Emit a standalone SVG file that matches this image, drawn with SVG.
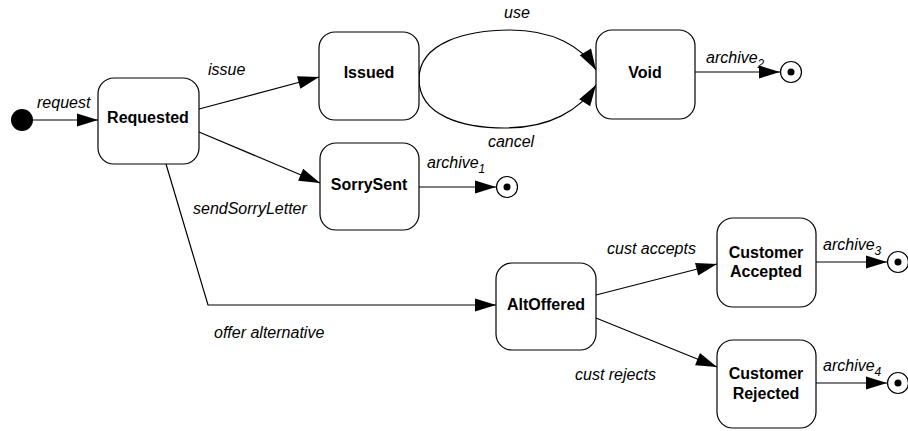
<svg xmlns="http://www.w3.org/2000/svg" width="908" height="431" viewBox="0 0 908 431">
<defs>
<marker id="arr" markerUnits="userSpaceOnUse" markerWidth="22" markerHeight="13" refX="21" refY="6.5" orient="auto" overflow="visible">
<path d="M0,0 L21,6.5 L0,13 z" fill="#000"/>
</marker>
<style>
.st{fill:#fff;stroke:#000;stroke-width:1.2}
.nm{font-family:"Liberation Sans",Arial,sans-serif;font-weight:bold;font-size:16px;text-anchor:middle;fill:#000}
.lb{font-family:"Liberation Sans",Arial,sans-serif;font-style:italic;font-size:16px;fill:#000}
.sub{font-size:12px}
.cn{fill:none;stroke:#000;stroke-width:1.2;marker-end:url(#arr)}
.fo{fill:#fff;stroke:#000;stroke-width:1.2}
</style>
</defs>
<rect width="908" height="431" fill="#fff"/>
<g id="connectors">
<line class="cn" x1="33" y1="120" x2="98" y2="120"/>
<line class="cn" x1="199" y1="109" x2="319" y2="77"/>
<line class="cn" x1="199" y1="132" x2="320" y2="183"/>
<polyline class="cn" points="166,164 208,305 496,305"/>
<path class="cn" d="M419,79 C419,42 468,30 510,30 C552,30 582,46 596,70"/>
<path class="cn" d="M419,79 C419,116 463,128 505,128 C550,128 580,110 596,85"/>
<line class="cn" x1="695" y1="72" x2="780" y2="72"/>
<line class="cn" x1="419" y1="187" x2="496" y2="187"/>
<line class="cn" x1="596" y1="295" x2="717" y2="264"/>
<line class="cn" x1="596" y1="318" x2="717" y2="367"/>
<line class="cn" x1="816" y1="262" x2="887" y2="262"/>
<line class="cn" x1="816" y1="383" x2="887" y2="383"/>
<text class="lb" x="37" y="108">request</text>
<text class="lb" x="208" y="75">issue</text>
<text class="lb" x="193" y="214">sendSorryLetter</text>
<text class="lb" x="214" y="338">offer alternative</text>
<text class="lb" x="517" y="18" text-anchor="middle">use</text>
<text class="lb" x="511" y="147" text-anchor="middle">cancel</text>
<text class="lb" x="706" y="63">archive<tspan class="sub" dy="5">2</tspan></text>
<text class="lb" x="427" y="168">archive<tspan class="sub" dy="5">1</tspan></text>
<text class="lb" x="607" y="254">cust accepts</text>
<text class="lb" x="575" y="380">cust rejects</text>
<text class="lb" x="823" y="250">archive<tspan class="sub" dy="5">3</tspan></text>
<text class="lb" x="823" y="371">archive<tspan class="sub" dy="5">4</tspan></text>
</g>
<g id="initial"><circle cx="22" cy="120" r="11" fill="#000"/></g>
<g id="Requested"><rect class="st" x="98" y="78" width="101" height="86" rx="16"/><text class="nm" x="148" y="123">Requested</text></g>
<g id="Issued"><rect class="st" x="319" y="32" width="100" height="88" rx="16"/><text class="nm" x="369" y="78">Issued</text></g>
<g id="Void"><rect class="st" x="596" y="30" width="99" height="89" rx="16"/><text class="nm" x="645" y="78">Void</text></g>
<g id="SorrySent"><rect class="st" x="320" y="143" width="99" height="87" rx="16"/><text class="nm" x="369" y="190">SorrySent</text></g>
<g id="AltOffered"><rect class="st" x="496" y="263" width="100" height="87" rx="16"/><text class="nm" x="546" y="310">AltOffered</text></g>
<g id="CustomerAccepted"><rect class="st" x="717" y="218" width="99" height="89" rx="16"/><text class="nm" x="766" y="258">Customer</text><text class="nm" x="766" y="277">Accepted</text></g>
<g id="CustomerRejected"><rect class="st" x="717" y="340" width="99" height="88" rx="16"/><text class="nm" x="766" y="379">Customer</text><text class="nm" x="766" y="399">Rejected</text></g>
<g id="final1"><circle class="fo" cx="791" cy="72" r="10.5"/><circle cx="791" cy="72" r="3.5" fill="#000"/></g>
<g id="final2"><circle class="fo" cx="507" cy="187" r="10.5"/><circle cx="507" cy="187" r="3.5" fill="#000"/></g>
<g id="final3"><circle class="fo" cx="898" cy="262" r="10.5"/><circle cx="898" cy="262" r="3.5" fill="#000"/></g>
<g id="final4"><circle class="fo" cx="898" cy="383" r="10.5"/><circle cx="898" cy="383" r="3.5" fill="#000"/></g>
</svg>
